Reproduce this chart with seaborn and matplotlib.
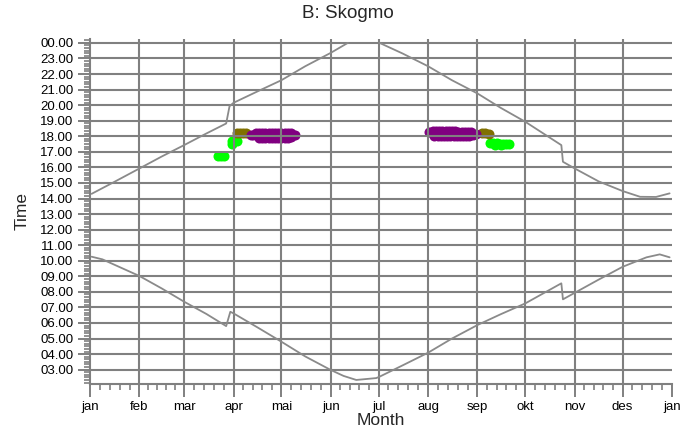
import numpy as np
import pandas as pd
import seaborn as sns
import matplotlib.pyplot as plt
from matplotlib.ticker import FixedLocator, MultipleLocator, FuncFormatter

# day of year where each month starts
month_starts = [0, 31, 59, 90, 120, 151, 181, 212, 243, 273, 304, 334, 365]
month_labels = ['jan', 'feb', 'mar', 'apr', 'mai', 'jun', 'jul', 'aug', 'sep', 'okt', 'nov', 'des', 'jan']

# sunset (hours, local time), split where it passes midnight
sunset_spring_day = [1, 14, 31, 45, 59, 73, 85.4, 87.5, 90, 105, 120, 135, 151, 161.7]
sunset_spring_time = [14.3, 15.0, 15.93, 16.7, 17.43, 18.18, 18.82, 19.93, 20.15, 20.88, 21.6, 22.5, 23.36, 24.0]
sunset_autumn_day = [181.6, 196, 212, 227, 243, 257.5, 273, 295.6, 296.6, 304, 319, 334, 345, 355, 363.5]
sunset_autumn_time = [24.0, 23.32, 22.5, 21.6, 20.75, 19.83, 18.93, 17.43, 16.36, 15.93, 15.1, 14.48, 14.11, 14.1, 14.33]

# sunrise
sunrise_day = [1, 7.8, 31, 45, 59, 73, 85.4, 88, 90, 105, 120, 135, 151, 159, 167, 179.5,
               181.6, 196.5, 212, 227, 243, 257.5, 273, 295.6, 296.6, 304, 318.5, 334, 349, 357.3, 363.5]
sunrise_time = [10.26, 10.09, 9.02, 8.22, 7.37, 6.58, 5.8, 6.72, 6.62, 5.72, 4.8, 3.85, 2.98, 2.6, 2.34, 2.46,
                2.55, 3.3, 4.09, 5.0, 5.87, 6.56, 7.26, 8.55, 7.52, 7.94, 8.76, 9.61, 10.22, 10.41, 10.22]

# observations (day of year, time of day)
green_day = [80, 82, 84, 89, 90.5, 92, 89,
             251, 253, 255, 257, 259, 261, 263, 254, 258]
green_time = [16.7, 16.7, 16.7, 17.68, 17.7, 17.7, 17.5,
              17.55, 17.55, 17.55, 17.52, 17.5, 17.5, 17.5, 17.45, 17.45]
olive_day = [92, 94, 96, 98, 246, 248, 250]
olive_time = [18.22, 18.24, 18.24, 18.22, 18.2, 18.18, 18.15]
purple_day = [101, 102.5,
              104, 106, 108, 110, 112, 114, 116, 118, 120, 122, 124, 126,
              106, 108, 110, 112, 114, 116, 118, 120, 122, 124, 126,
              128.3,
              212.5,
              215, 217, 219, 221, 223, 225, 227, 229, 231, 233, 235, 237, 239,
              216, 218, 220, 222, 224, 226, 228, 230, 232, 234, 236, 238, 240, 242.3]
purple_time = [18.08, 18.1,
               18.2, 18.22, 18.22, 18.22, 18.22, 18.22, 18.22, 18.22, 18.22, 18.22, 18.2, 18.18,
               17.92, 17.9, 17.9, 17.9, 17.9, 17.9, 17.9, 17.9, 17.9, 17.9, 17.95,
               18.06,
               18.25,
               18.34, 18.34, 18.34, 18.34, 18.34, 18.34, 18.34, 18.32, 18.3, 18.3, 18.3, 18.28, 18.26,
               18.02, 18.02, 18.02, 18.02, 18.02, 18.02, 18.02, 18.02, 18.02, 18.02, 18.02, 18.02, 18.05, 18.12]

lines = pd.concat([
    pd.DataFrame({'day': sunset_spring_day, 'time': sunset_spring_time, 'seg': 'ss1'}),
    pd.DataFrame({'day': sunset_autumn_day, 'time': sunset_autumn_time, 'seg': 'ss2'}),
    pd.DataFrame({'day': sunrise_day, 'time': sunrise_time, 'seg': 'sr'}),
])

sns.set_style('white')
plt.rcParams['font.family'] = ['Liberation Sans', 'DejaVu Sans']

fig = plt.figure(figsize=(6.95, 4.30), dpi=100, facecolor='white')
ax = fig.add_axes([90 / 695, 1 - 384 / 430, 582 / 695, 345 / 430])

grid_col = '#808080'
for m in month_starts[1:-1]:
    ax.axvline(m, color=grid_col, lw=1.5, zorder=2.5)
for h in range(3, 25):
    ax.axhline(h, color=grid_col, lw=1.5, zorder=2.5)

sns.scatterplot(x=green_day, y=green_time, color='#00ff00', s=52, linewidth=0, ax=ax, zorder=1)
sns.scatterplot(x=olive_day, y=olive_time, color='#807000', s=52, linewidth=0, ax=ax, zorder=1)
sns.scatterplot(x=purple_day, y=purple_time, color='#800080', s=52, linewidth=0, ax=ax, zorder=1)

sns.lineplot(data=lines, x='day', y='time', units='seg', estimator=None, sort=False,
             color='#8a8a8a', linewidth=1.3, ax=ax, legend=False, zorder=3)

ax.set_xlim(0, 365)
ax.set_ylim(2.08, 24.25)

# x ticks: months, with 4 small ticks inside each month
minor_x = []
for a, b in zip(month_starts[:-1], month_starts[1:]):
    minor_x += [a + k * (b - a) / 5 for k in range(1, 5)]
ax.xaxis.set_major_locator(FixedLocator(month_starts))
ax.xaxis.set_minor_locator(FixedLocator(minor_x))
ax.set_xticklabels(month_labels)

ax.yaxis.set_major_locator(FixedLocator(list(range(3, 25))))
ax.yaxis.set_minor_locator(MultipleLocator(1 / 6))
ax.yaxis.set_major_formatter(FuncFormatter(lambda v, p: f'{int(round(v)) % 24:02d}.00'))

ax.tick_params(which='major', length=9, width=1.4, color=grid_col, labelsize=9.5,
               labelcolor='black', pad=3)
ax.tick_params(which='minor', length=4.5, width=1.2, color=grid_col)
ax.tick_params(axis='x', which='both', bottom=True)
ax.tick_params(axis='y', which='both', left=True)

for side in ['top', 'right']:
    ax.spines[side].set_visible(False)
for side in ['left', 'bottom']:
    ax.spines[side].set_color(grid_col)
    ax.spines[side].set_linewidth(1.5)

ax.set_xlabel('Month', fontsize=12.5)
ax.xaxis.set_label_coords(0.5, -0.083)
ax.set_ylabel('Time', fontsize=12.5)
ax.yaxis.label.set_va('center')
ax.yaxis.set_label_coords(-68 / 582, 0.5)

fig.text(0.5, 1 - 14 / 430, 'B: Skogmo', ha='center', va='center', fontsize=13.5)

fig.savefig('out.png', dpi=100, facecolor='white')
